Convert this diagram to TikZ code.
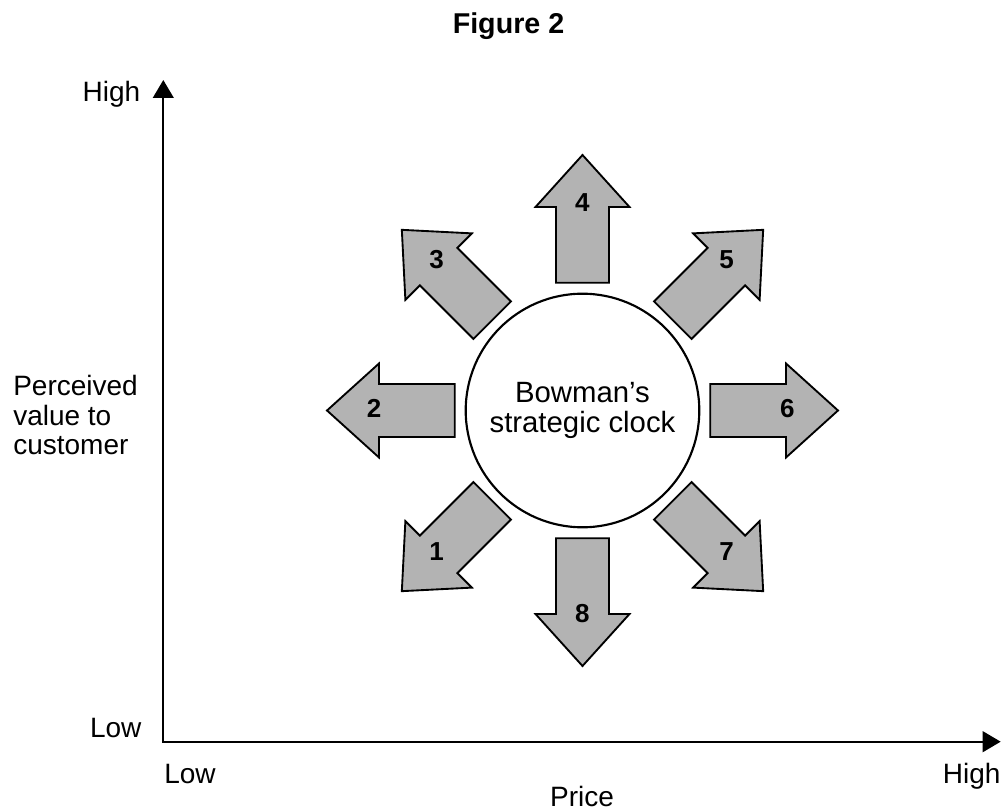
\documentclass[tikz,border=0pt]{standalone}
\usepackage{fontspec}
\setmainfont{Liberation Sans}
\usetikzlibrary{arrows.meta}
\definecolor{arrowfill}{RGB}{179,179,179}
\begin{document}
\begin{tikzpicture}[x=0.75pt,y=-0.75pt,
  lbl/.style={inner sep=0pt, font=\fontsize{21}{22}\selectfont},
  title/.style={inner sep=0pt, font=\fontsize{21.5}{24}\selectfont\bfseries},
  num/.style={inner sep=0pt, font=\fontsize{19.5}{21}\selectfont\bfseries},
  clocknode/.style={circle, draw=black, line width=1.6pt, minimum size=175.2pt, inner sep=0pt, align=center, font=\fontsize{22}{22.1}\selectfont},
  clockarrow/.style={draw=black, line width=1.4pt, fill=arrowfill, line join=miter},
  axisline/.style={line width=1.65pt, {Triangle[width=15.5pt,length=13.5pt]}-{Triangle[width=15.5pt,length=13.5pt]}}]
\useasboundingbox (0,0) rectangle (1008,812);

% title
\node[title, anchor=base] (fig) at (508.5,33.3) {Figure 2};

% axes
\coordinate (O) at (163.3,741.7);
\coordinate (ytip) at (163.3,80);
\coordinate (xtip) at (1000.7,741.7);
\draw[axisline] (ytip) -- (O) -- (xtip);

% axis labels
\node[lbl, anchor=base east] (yhigh) at (140.5,101.7) {High};
\node[lbl, anchor=base east] (ylow) at (141.7,737.7) {Low};
\node[lbl, anchor=base west] (xlow) at (164,784) {Low};
\node[lbl, anchor=base east] (xhigh) at (1000.7,784) {High};
\node[lbl, anchor=base] (xname) at (582,806.5) {Price};
\node[lbl, anchor=west, align=left] (yname) at (13,415) {Perceived\\value to\\customer};

% clock
\node[clocknode] (clock) at (582.5,410.5) {Bowman’s\\strategic clock};

\foreach \ang in {0,45,...,315}{
  \draw[clockarrow, shift={(clock.center)}, rotate=\ang]
    (127.7,-26.5) -- (203.5,-26.5) -- (203.5,-47) -- (255.5,0)
    -- (203.5,47) -- (203.5,26.5) -- (127.7,26.5) -- cycle;
}

% numbers
\node[num] (n1) at (436.7,551.7) {1};
\node[num] (n2) at (374,408.3) {2};
\node[num] (n3) at (436.7,260) {3};
\node[num] (n4) at (582.3,202.3) {4};
\node[num] (n5) at (726.7,260) {5};
\node[num] (n6) at (787.3,408.3) {6};
\node[num] (n7) at (726.7,551.7) {7};
\node[num] (n8) at (582.3,613.3) {8};
\end{tikzpicture}
\end{document}
